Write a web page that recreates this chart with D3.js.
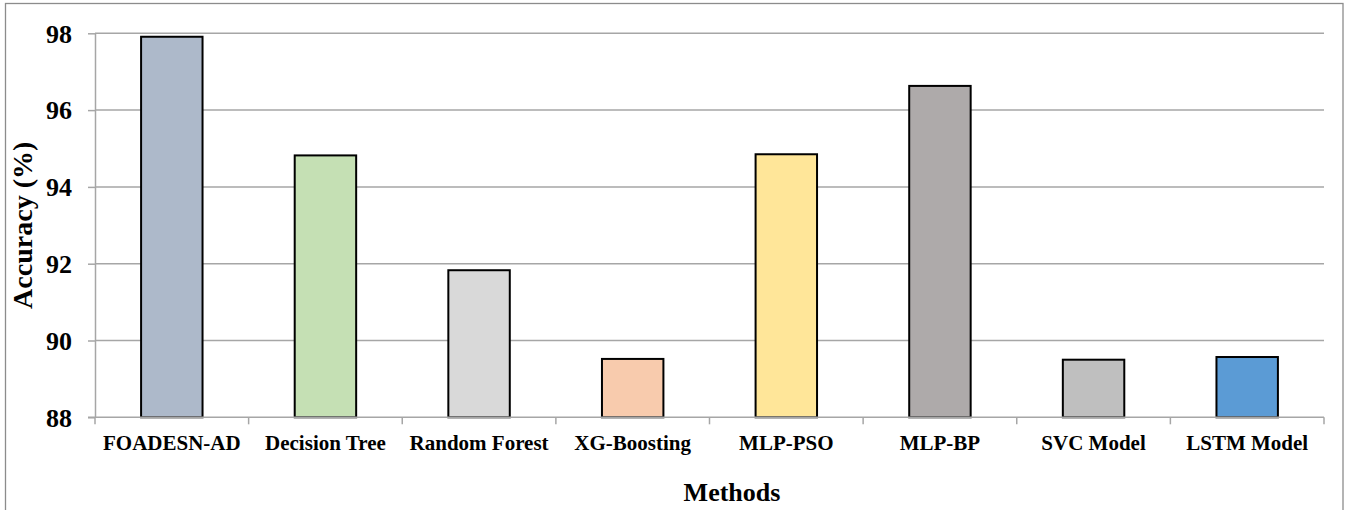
<!DOCTYPE html>
<html>
<head>
<meta charset="utf-8">
<script src="https://cdn.jsdelivr.net/npm/d3@7"></script>
<style>
  html, body { margin: 0; padding: 0; background: #fff; }
  svg { display: block; }
  text { font-family: "Liberation Serif", "Times New Roman", serif; font-weight: bold; fill: #000; }
</style>
</head>
<body>
<svg id="chart" width="1346" height="510"></svg>
<script>
// Accuracy per method
const methods = ["FOADESN-AD", "Decision Tree", "Random Forest", "XG-Boosting", "MLP-PSO", "MLP-BP", "SVC Model", "LSTM Model"];
const accuracy = [97.91, 94.82, 91.83, 89.52, 94.85, 96.63, 89.50, 89.57];
const barColors = ["#adb9ca", "#c5e0b4", "#d9d9d9", "#f8cbad", "#ffe699", "#aeaaaa", "#bfbfbf", "#5b9bd5"];
const yTicks = [88, 90, 92, 94, 96, 98];

const svg = d3.select("#chart");
const plot = { left: 95, right: 1324, top: 33.3, bottom: 417.3 };

// chart frame
svg.append("rect")
  .attr("x", 5.5).attr("y", 3.5)
  .attr("width", 1337.5).attr("height", 520)
  .attr("fill", "none").attr("stroke", "#8c8c8c").attr("stroke-width", 1.3);

const x = d3.scaleBand()
  .domain(methods)
  .range([plot.left, plot.right])
  .paddingInner(0.6)
  .paddingOuter(0.3);

const y = d3.scaleLinear()
  .domain([88, 98])
  .range([plot.bottom, plot.top]);

// horizontal gridlines
svg.append("g")
  .selectAll("line")
  .data(yTicks.filter(t => t !== 88))
  .join("line")
  .attr("x1", plot.left).attr("x2", plot.right)
  .attr("y1", d => y(d)).attr("y2", d => y(d))
  .attr("stroke", "#a6a6a6").attr("stroke-width", 1.5);

// y axis
const yAxis = svg.append("g")
  .attr("transform", `translate(${plot.left},0)`)
  .call(d3.axisLeft(y).tickValues(yTicks).tickSize(7).tickPadding(16).tickSizeOuter(0));
yAxis.select(".domain").attr("stroke", "#a6a6a6").attr("stroke-width", 1.5);
yAxis.selectAll(".tick line").attr("stroke", "#a6a6a6").attr("stroke-width", 1.5);
yAxis.selectAll(".tick text")
  .attr("font-size", 26)
  .attr("font-family", "Liberation Serif, Times New Roman, serif")
  .attr("font-weight", "bold")
  .attr("fill", "#000")
  .attr("dy", "0.34em");

// bars
svg.append("g")
  .selectAll("rect")
  .data(methods)
  .join("rect")
  .attr("x", d => x(d))
  .attr("width", x.bandwidth())
  .attr("y", (d, i) => y(accuracy[i]))
  .attr("height", (d, i) => y(88) - y(accuracy[i]))
  .attr("fill", (d, i) => barColors[i])
  .attr("stroke", "#000")
  .attr("stroke-width", 2);

// x axis with ticks between categories
const step = x.step();
const boundaries = d3.range(methods.length + 1).map(i => plot.left + i * step);
svg.append("line")
  .attr("x1", plot.left - 7).attr("x2", plot.right)
  .attr("y1", plot.bottom).attr("y2", plot.bottom)
  .attr("stroke", "#a6a6a6").attr("stroke-width", 1.5);
svg.append("g")
  .selectAll("line")
  .data(boundaries)
  .join("line")
  .attr("x1", d => d).attr("x2", d => d)
  .attr("y1", plot.bottom).attr("y2", plot.bottom + 7)
  .attr("stroke", "#a6a6a6").attr("stroke-width", 1.5);

svg.append("g")
  .selectAll("text")
  .data(methods)
  .join("text")
  .attr("x", d => x(d) + x.bandwidth() / 2)
  .attr("y", 450)
  .attr("text-anchor", "middle")
  .attr("font-size", 21)
  .text(d => d);

// axis titles
svg.append("text")
  .attr("x", 732)
  .attr("y", 501)
  .attr("text-anchor", "middle")
  .attr("font-size", 26)
  .text("Methods");

svg.append("text")
  .attr("transform", `translate(32,${(plot.top + plot.bottom) / 2}) rotate(-90)`)
  .attr("text-anchor", "middle")
  .attr("font-size", 28)
  .text("Accuracy (%)");
</script>
</body>
</html>
